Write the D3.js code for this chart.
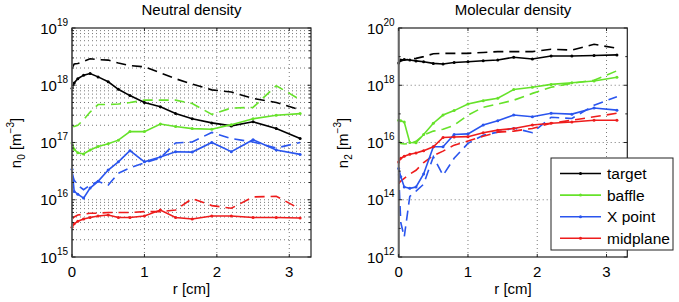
<!DOCTYPE html>
<html>
<head>
<meta charset="utf-8">
<script src="https://cdn.jsdelivr.net/npm/d3@7"></script>
<style>
body { margin: 0; background: #fff; }
svg { font-family: "Liberation Sans", Arial, sans-serif; }
</style>
</head>
<body>
<svg id="viz"></svg>
<script>
var width = 679;
var height = 302;

// radial positions of the samples [cm]
var rCm = [0, 0.03, 0.08, 0.16, 0.25, 0.36, 0.5, 0.64, 0.8, 1.0, 1.22, 1.43, 1.66, 1.93, 2.2, 2.5, 2.82, 3.15];

var regions = ["target", "baffle", "X point", "midplane"];
var colors = ["#000000", "#66e22a", "#2a55ee", "#ee1c1c"];

// neutral density n0 [m^-3] - solid lines
var n0Target   = [8.9e17, 1.1e18, 1.3e18, 1.5e18, 1.6e18, 1.4e18, 1.15e18, 8.5e17, 6.6e17, 5.0e17, 4.2e17, 3.2e17, 2.6e17, 2.2e17, 1.95e17, 2.3e17, 1.75e17, 1.17e17];
var n0Baffle   = [9.8e16, 7.6e16, 6.6e16, 6.3e16, 7.4e16, 8.5e16, 9.5e16, 1.1e17, 1.55e17, 1.55e17, 2.1e17, 1.9e17, 1.75e17, 1.7e17, 2.05e17, 2.6e17, 3.0e17, 3.2e17];
var n0XPoint   = [3.4e16, 1.4e16, 1.25e16, 1.07e16, 1.6e16, 2.1e16, 3.3e16, 4.6e16, 7.2e16, 4.6e16, 5.6e16, 6.9e16, 6.8e16, 1.0e17, 6.9e16, 1.12e17, 7.4e16, 6.2e16];
var n0Midplane = [3.3e15, 3.8e15, 4.2e15, 4.6e15, 4.9e15, 5.2e15, 5.4e15, 4.9e15, 4.9e15, 5.2e15, 6.6e15, 4.9e15, 4.6e15, 5.2e15, 5.2e15, 4.9e15, 4.9e15, 4.8e15];
// neutral density n0 - dashed lines
var n0TargetB   = [2.0e18, 2.35e18, 2.4e18, 2.6e18, 2.9e18, 2.8e18, 2.75e18, 2.45e18, 2.2e18, 2.1e18, 1.65e18, 1.3e18, 1.05e18, 8.3e17, 7.6e17, 5.9e17, 5.0e17, 3.7e17];
var n0BaffleB   = [1.9e17, 1.9e17, 2.0e17, 2.5e17, 3.4e17, 4.6e17, 4.6e17, 4.7e17, 5.0e17, 5.5e17, 5.5e17, 5.5e17, 4.8e17, 3.1e17, 4.0e17, 4.1e17, 9.8e17, 5.6e17];
var n0XPointB   = [2.9e16, 2.2e16, 1.8e16, 1.5e16, 1.8e16, 2.1e16, 1.8e16, 2.9e16, 3.6e16, 4.4e16, 5.4e16, 9.8e16, 1.02e17, 1.5e17, 1.17e17, 1.02e17, 8.0e16, 1.0e17];
var n0MidplaneB = [4.6e15, 5.0e15, 5.4e15, 5.6e15, 5.8e15, 5.8e15, 6.0e15, 6.0e15, 6.0e15, 6.2e15, 6.2e15, 6.6e15, 1.05e16, 7.9e15, 7.1e15, 1.12e16, 1.15e16, 6.9e15];

// molecular density n2 [m^-3] - solid lines
var n2Target   = [6.0e18, 7.6e18, 7.9e18, 7.6e18, 7.1e18, 6.6e18, 5.8e18, 5.5e18, 6.2e18, 6.6e18, 7.2e18, 7.6e18, 9.5e18, 8.3e18, 1.05e19, 1.05e19, 1.1e19, 1.15e19];
var n2Baffle   = [6.0e16, 5.8e16, 5.2e16, 1.0e16, 9.8e15, 1.9e16, 4.7e16, 9.1e16, 1.3e17, 2.2e17, 2.9e17, 3.5e17, 7.1e17, 8.5e17, 1.07e18, 1.23e18, 1.4e18, 1.9e18];
var n2XPoint   = [1.23e15, 6.3e14, 2.8e14, 2.5e14, 2.8e14, 8.0e14, 7.1e15, 7.1e15, 1.9e16, 2.0e16, 4.1e16, 5.8e16, 9.1e16, 7.9e16, 1.05e17, 9.8e16, 1.6e17, 1.35e17];
var n2Midplane = [2.1e15, 2.8e15, 3.3e15, 3.9e15, 4.3e15, 5.2e15, 7.1e15, 1.5e16, 1.55e16, 1.6e16, 2.2e16, 2.7e16, 3.1e16, 4.1e16, 4.7e16, 5.2e16, 6.0e16, 6.0e16];
// molecular density n2 - dashed lines
var n2TargetB   = [6.3e18, 7.1e18, 7.6e18, 8.1e18, 8.7e18, 1.0e19, 1.26e19, 1.3e19, 1.3e19, 1.3e19, 1.4e19, 1.5e19, 1.5e19, 1.5e19, 1.8e19, 1.7e19, 2.7e19, 1.95e19];
var n2BaffleB   = [1.2e16, 9.3e15, 8.9e15, 9.3e15, 1.1e16, 1.8e16, 2.5e16, 2.9e16, 4.0e16, 9.1e16, 1.7e17, 2.2e17, 3.0e17, 5.2e17, 8.5e17, 1.17e18, 1.5e18, 3.2e18];
var n2XPointB   = [7.9e14, 1.6e13, 5.0e12, 1.3e14, 2.0e14, 3.5e14, 3.2e15, 7.1e14, 2.8e15, 9.3e15, 1.8e16, 2.3e16, 3.2e16, 2.2e16, 7.6e16, 6.9e16, 2.0e17, 4.0e17];
var n2MidplaneB = [3.7e14, 4.5e14, 5.6e14, 7.9e14, 1.07e15, 2.0e15, 3.5e15, 5.0e15, 8.1e15, 1.12e16, 1.66e16, 2.3e16, 2.5e16, 3.1e16, 4.7e16, 6.0e16, 7.9e16, 1.05e17];

var ticksX = [0, 1, 2, 3];

var svg = d3.select("#viz").attr("width", width).attr("height", height);

function drawPanel(p) {
    var x = d3.scaleLinear().domain([0, 3.3]).range([p.x0, p.x1]);
    var y = d3.scaleLog().domain([p.ymin, p.ymax]).range([257, 28]);
    var g = svg.append("g");

    // grid
    var grid = g.append("g")
        .attr("stroke", "#555")
        .attr("stroke-width", 0.8)
        .attr("stroke-dasharray", "1,3")
        .attr("fill", "none");
    grid.selectAll("line.gy").data(p.gridY).enter().append("line")
        .attr("x1", p.x0).attr("x2", p.x1)
        .attr("y1", function (d) { return y(d); })
        .attr("y2", function (d) { return y(d); });
    grid.selectAll("line.gx").data(ticksX.slice(1)).enter().append("line")
        .attr("y1", 28).attr("y2", 257)
        .attr("x1", function (d) { return x(d); })
        .attr("x2", function (d) { return x(d); });

    // data: dashed first, then solid with dot markers
    var line = d3.line()
        .x(function (d, i) { return x(rCm[i]); })
        .y(function (d) { return y(d); });

    p.dashed.forEach(function (s, k) {
        g.append("path").datum(s)
            .attr("fill", "none")
            .attr("stroke", colors[k])
            .attr("stroke-width", 1.6)
            .attr("stroke-dasharray", "10,6")
            .attr("d", line);
    });
    p.solid.forEach(function (s, k) {
        g.append("path").datum(s)
            .attr("fill", "none")
            .attr("stroke", colors[k])
            .attr("stroke-width", 1.6)
            .attr("d", line);
        g.selectAll(null).data(s).enter().append("circle")
            .attr("cx", function (d, i) { return x(rCm[i]); })
            .attr("cy", function (d) { return y(d); })
            .attr("r", 1.5)
            .attr("fill", colors[k]);
    });

    // box and ticks
    g.append("rect")
        .attr("x", p.x0).attr("y", 28)
        .attr("width", p.x1 - p.x0).attr("height", 229)
        .attr("fill", "none")
        .attr("stroke", "#222")
        .attr("stroke-width", 1.2);
    g.append("line")
        .attr("x1", p.x0).attr("x2", p.x0).attr("y1", 28).attr("y2", 257)
        .attr("stroke", "#666").attr("stroke-width", 2);

    var ticks = g.append("g").attr("stroke", "#222").attr("stroke-width", 1);
    ticksX.forEach(function (t) {
        ticks.append("line").attr("x1", x(t)).attr("x2", x(t)).attr("y1", 257).attr("y2", 254);
        ticks.append("line").attr("x1", x(t)).attr("x2", x(t)).attr("y1", 28).attr("y2", 31);
    });
    p.minorY.forEach(function (t) {
        ticks.append("line").attr("x1", p.x0).attr("x2", p.x0 + 2).attr("y1", y(t)).attr("y2", y(t));
        ticks.append("line").attr("x1", p.x1).attr("x2", p.x1 - 2).attr("y1", y(t)).attr("y2", y(t));
    });
    p.labelY.forEach(function (t) {
        ticks.append("line").attr("x1", p.x0).attr("x2", p.x0 + 3.5).attr("y1", y(t)).attr("y2", y(t));
        ticks.append("line").attr("x1", p.x1).attr("x2", p.x1 - 3.5).attr("y1", y(t)).attr("y2", y(t));
    });

    // tick labels
    g.selectAll("text.xl").data(ticksX).enter().append("text")
        .attr("x", function (d) { return x(d); })
        .attr("y", 277)
        .attr("text-anchor", "middle")
        .attr("font-size", 15)
        .text(function (d) { return d; });

    g.selectAll("text.yl").data(p.labelY).enter().append("text")
        .attr("x", p.x0 - 4)
        .attr("y", function (d) { return y(d) + 5.5; })
        .attr("text-anchor", "end")
        .attr("font-size", 15)
        .each(function (d) {
            var t = d3.select(this);
            t.append("tspan").text("10");
            t.append("tspan").attr("font-size", 10).attr("dy", -8).text(Math.round(Math.log10(d)));
        });

    // title, axis labels
    g.append("text")
        .attr("x", (p.x0 + p.x1) / 2).attr("y", 15)
        .attr("text-anchor", "middle").attr("font-size", 15)
        .text(p.title);
    g.append("text")
        .attr("x", (p.x0 + p.x1) / 2).attr("y", 294)
        .attr("text-anchor", "middle").attr("font-size", 15)
        .text("r [cm]");

    var yl = g.append("text")
        .attr("transform", "translate(" + p.ylabX + ",143) rotate(-90)")
        .attr("text-anchor", "middle").attr("font-size", 15);
    yl.append("tspan").text("n");
    yl.append("tspan").attr("font-size", 10).attr("dy", 4).text(p.sub);
    yl.append("tspan").attr("dy", -4).text(" [m");
    yl.append("tspan").attr("font-size", 10).attr("dy", -7).text("\u22123");
    yl.append("tspan").attr("dy", 7).text("]");

    return { x: x, y: y };
}

function decadeMinor(lo, hi) {
    var out = [];
    for (var e = lo; e < hi; e++) {
        for (var m = 2; m <= 9; m++) out.push(m * Math.pow(10, e));
    }
    return out;
}

drawPanel({
    x0: 72, x1: 311, ymin: 1e15, ymax: 1e19,
    title: "Neutral density", sub: "0", ylabX: 21,
    labelY: [1e15, 1e16, 1e17, 1e18, 1e19],
    minorY: decadeMinor(15, 19),
    gridY: [1e16, 1e17, 1e18].concat(decadeMinor(15, 19)),
    solid: [n0Target, n0Baffle, n0XPoint, n0Midplane],
    dashed: [n0TargetB, n0BaffleB, n0XPointB, n0MidplaneB]
});

drawPanel({
    x0: 398.7, x1: 627.3, ymin: 1e12, ymax: 1e20,
    title: "Molecular density", sub: "2", ylabX: 348,
    labelY: [1e12, 1e14, 1e16, 1e18, 1e20],
    minorY: [1e13, 1e15, 1e17, 1e19],
    gridY: [1e14, 1e16, 1e18],
    solid: [n2Target, n2Baffle, n2XPoint, n2Midplane],
    dashed: [n2TargetB, n2BaffleB, n2XPointB, n2MidplaneB]
});

// legend
var leg = svg.append("g").attr("transform", "translate(551,158)");
leg.append("rect")
    .attr("width", 122).attr("height", 92)
    .attr("fill", "#fff").attr("stroke", "#222").attr("stroke-width", 1);
regions.forEach(function (name, k) {
    var yy = 15.5 + k * 21.6;
    leg.append("line")
        .attr("x1", 9).attr("x2", 50).attr("y1", yy).attr("y2", yy)
        .attr("stroke", colors[k]).attr("stroke-width", 1.6);
    leg.append("circle").attr("cx", 29.5).attr("cy", yy).attr("r", 1.5).attr("fill", colors[k]);
    leg.append("text")
        .attr("x", 56).attr("y", yy + 5.5)
        .attr("font-size", 15.5)
        .text(name);
});
</script>
</body>
</html>
